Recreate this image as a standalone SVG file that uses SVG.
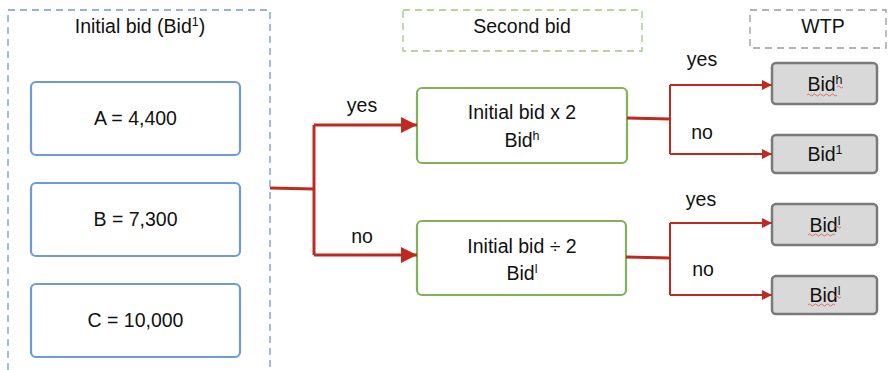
<svg xmlns="http://www.w3.org/2000/svg" width="888" height="370" viewBox="0 0 888 370">
  <defs>
    <style>
      text { font-family: "Liberation Sans", Arial, sans-serif; font-size: 19.5px; fill: #111; text-anchor: middle; }
      .sup { font-size: 12.5px; }
      .frame { fill: none; stroke-width: 1.3; stroke-dasharray: 7 5; }
      .bid { fill: #fff; stroke: #6f9ad8; stroke-width: 2.2; }
      .second { fill: #fff; stroke: #7fb356; stroke-width: 2.2; }
      .wtp { fill: #d9d9d9; stroke: #7a7a7a; stroke-width: 2.5; }
      .main { fill: none; stroke: #bf2a20; stroke-width: 3; }
      .branch { fill: none; stroke: #bf2a20; stroke-width: 2; }
      .squiggle { fill: none; stroke: #e0524a; stroke-width: 0.8; }
    </style>
    <marker id="arrowBig" viewBox="0 0 16 16" refX="16" refY="8" markerWidth="16" markerHeight="16" markerUnits="userSpaceOnUse" orient="auto">
      <path d="M0,0 L16,8 L0,16 Z" fill="#bf2a20"/>
    </marker>
    <marker id="arrowSmall" viewBox="0 0 10 10" refX="10" refY="5" markerWidth="10" markerHeight="10" markerUnits="userSpaceOnUse" orient="auto">
      <path d="M0,0 L10,5 L0,10 Z" fill="#bf2a20"/>
    </marker>
  </defs>

  <!-- Column frames -->
  <g id="initial-frame">
    <rect class="frame" x="8" y="10" width="262" height="380" stroke="#6f9ad8"/>
    <text x="140" y="33">Initial bid (Bid<tspan class="sup" dy="-7">1</tspan><tspan dy="7">)</tspan></text>
  </g>
  <g id="second-frame">
    <rect class="frame" x="403" y="10" width="239" height="41" stroke="#9cc97c"/>
    <text x="522" y="33">Second bid</text>
  </g>
  <g id="wtp-frame">
    <rect class="frame" x="750" y="10" width="136" height="38" stroke="#9a9a9a"/>
    <text x="823" y="33">WTP</text>
  </g>

  <!-- Initial bid values -->
  <g id="bid-a">
    <rect class="bid" x="31" y="82" width="209" height="73" rx="5"/>
    <text x="135.5" y="125">A = 4,400</text>
  </g>
  <g id="bid-b">
    <rect class="bid" x="31" y="183" width="209" height="73" rx="5"/>
    <text x="135.5" y="226">B = 7,300</text>
  </g>
  <g id="bid-c">
    <rect class="bid" x="31" y="284" width="209" height="73" rx="5"/>
    <text x="135.5" y="327">C = 10,000</text>
  </g>

  <!-- Second bid -->
  <g id="second-high">
    <rect class="second" x="417" y="88" width="210" height="75" rx="5"/>
    <text x="522" y="119">Initial bid x 2</text>
    <text x="522" y="147">Bid<tspan class="sup" dy="-7">h</tspan></text>
  </g>
  <g id="second-low">
    <rect class="second" x="417" y="221" width="209" height="74" rx="5"/>
    <text x="522" y="253">Initial bid ÷ 2</text>
    <text x="522" y="280">Bid<tspan class="sup" dy="-7">l</tspan></text>
  </g>

  <!-- Willingness to pay outcomes -->
  <g id="wtp-1">
    <rect class="wtp" x="772" y="63" width="105" height="41" rx="4"/>
    <text x="825" y="91">Bid<tspan class="sup" dy="-7">h</tspan></text>
    <path class="squiggle" d="M807,95 q1.5,-2 3,0 t3,0 t3,0 t3,0 t3,0 t3,0 t3,0 t3,0 t3,0 t3,0 M837,87 q1.5,-2 3,0 t3,0"/>
  </g>
  <g id="wtp-2">
    <rect class="wtp" x="772" y="135" width="105" height="38" rx="4"/>
    <text x="825" y="161">Bid<tspan class="sup" dy="-7">1</tspan></text>
  </g>
  <g id="wtp-3">
    <rect class="wtp" x="772" y="204" width="105" height="41" rx="4"/>
    <text x="825" y="232">Bid<tspan class="sup" dy="-7">l</tspan></text>
    <path class="squiggle" d="M808,235 q1.5,-2 3,0 t3,0 t3,0 t3,0 t3,0 t3,0 t3,0 t3,0 t3,0 M835,227 q1.5,-2 3,0 t3,0"/>
  </g>
  <g id="wtp-4">
    <rect class="wtp" x="772" y="276" width="105" height="38" rx="4"/>
    <text x="825" y="302">Bid<tspan class="sup" dy="-7">l</tspan></text>
    <path class="squiggle" d="M808,305 q1.5,-2 3,0 t3,0 t3,0 t3,0 t3,0 t3,0 t3,0 t3,0 t3,0 M835,297 q1.5,-2 3,0 t3,0"/>
  </g>

  <!-- Connectors -->
  <g id="connectors">
    <path class="main" d="M270,188 L314,189"/>
    <path class="main" d="M314,125 L314,255"/>
    <path class="main" d="M314,125 L417,125" marker-end="url(#arrowBig)"/>
    <path class="main" d="M314,255 L417,255" marker-end="url(#arrowBig)"/>

    <path class="main" d="M627,118 L670,119"/>
    <path class="branch" d="M670,85 L670,154"/>
    <path class="branch" d="M670,85 L772,85" marker-end="url(#arrowSmall)"/>
    <path class="branch" d="M670,154 L772,154" marker-end="url(#arrowSmall)"/>

    <path class="main" d="M626,257 L670,258"/>
    <path class="branch" d="M670,223 L670,295"/>
    <path class="branch" d="M670,223 L772,223" marker-end="url(#arrowSmall)"/>
    <path class="branch" d="M670,295 L772,295" marker-end="url(#arrowSmall)"/>

    <text x="362" y="112">yes</text>
    <text x="362" y="243">no</text>
    <text x="702" y="66">yes</text>
    <text x="702" y="139">no</text>
    <text x="701" y="206">yes</text>
    <text x="703" y="276">no</text>
  </g>
</svg>
